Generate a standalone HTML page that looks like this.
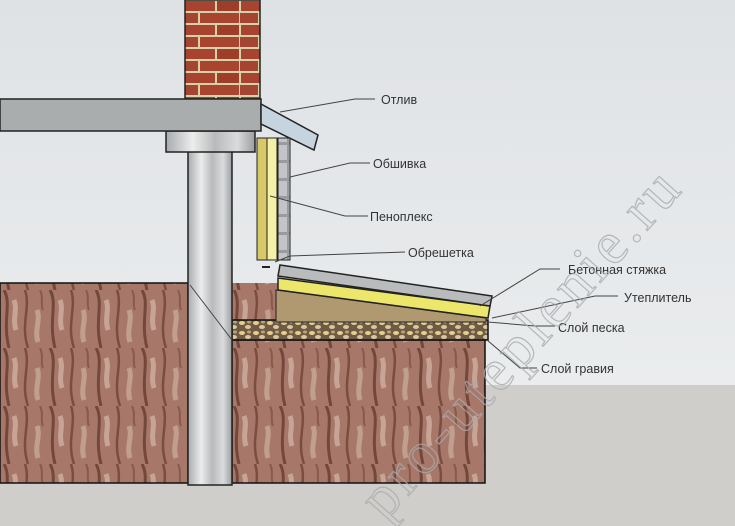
<!DOCTYPE html>
<html><head><meta charset="utf-8"><style>
html,body{margin:0;padding:0;background:#e6e8ea;}
svg{display:block;}
text{font-family:"Liberation Sans","DejaVu Sans",sans-serif;font-size:12.5px;fill:#333;}
</style></head><body>
<svg width="735" height="526" viewBox="0 0 735 526" xmlns="http://www.w3.org/2000/svg">
<defs>
<linearGradient id="bg" x1="0" y1="0" x2="0" y2="1"><stop offset="0" stop-color="#dfe2e5"/><stop offset="1" stop-color="#eef0f1"/></linearGradient>
<linearGradient id="pipe" x1="0" x2="1"><stop offset="0" stop-color="#a9aaad"/><stop offset=".3" stop-color="#eceded"/><stop offset=".55" stop-color="#b9babc"/><stop offset=".8" stop-color="#dadbdc"/><stop offset="1" stop-color="#9c9da0"/></linearGradient>
<pattern id="soil" width="46" height="58" patternUnits="userSpaceOnUse">
<rect width="46" height="58" fill="#a7786a"/>
<path d="M4 0 C12 14 2 30 9 58" stroke="#73473a" stroke-width="3" fill="none"/>
<path d="M25 0 C31 18 20 34 28 58" stroke="#7a4d3e" stroke-width="2.5" fill="none"/>
<path d="M14 10 C18 20 12 28 16 40" stroke="#c6a596" stroke-width="5" fill="none"/>
<path d="M37 20 C41 30 34 40 38 52" stroke="#c19f8f" stroke-width="5" fill="none"/>
<path d="M40 0 C44 8 40 14 43 20" stroke="#8a5a48" stroke-width="2" fill="none"/>
</pattern>
<pattern id="brick" width="60" height="24" patternUnits="userSpaceOnUse">
<rect width="60" height="24" fill="#d8d0a8"/>
<rect x="1" y="1" width="34" height="10" fill="#a8432f"/><rect x="37" y="1" width="22" height="10" fill="#9e3d2a"/>
<rect x="0" y="13" width="18" height="10" fill="#a34530"/><rect x="20" y="13" width="39" height="10" fill="#a9452f"/>
</pattern>
<pattern id="grav" width="14" height="10" patternUnits="userSpaceOnUse">
<rect width="14" height="10" fill="#6f5a44"/>
<ellipse cx="4" cy="3" rx="3" ry="2" fill="#e4cf8e"/><ellipse cx="10" cy="7" rx="3" ry="2" fill="#d9c7a0"/><ellipse cx="11" cy="2" rx="2" ry="1.5" fill="#b9a57a"/>
</pattern>
<pattern id="clad" width="12" height="18" patternUnits="userSpaceOnUse"><rect width="12" height="18" fill="#9a9ba0"/><rect x="1" y="1" width="10" height="15" fill="#c3c4c8"/></pattern>
</defs>
<rect width="735" height="526" fill="url(#bg)"/>
<rect x="0" y="385" width="735" height="141" fill="#cfcecb"/>
<rect x="0" y="483" width="735" height="43" fill="#cfcecb"/>
<!-- soil -->
<rect x="0" y="283" width="188" height="200" fill="url(#soil)" stroke="#111" stroke-width="1.5"/>
<rect x="232" y="283" width="46" height="40" fill="url(#soil)"/>
<rect x="232" y="340" width="253" height="143" fill="url(#soil)" stroke="#111" stroke-width="1.5"/>
<rect x="232" y="320" width="256" height="20" fill="url(#grav)" stroke="#111" stroke-width="1.5"/>
<polygon points="276,290 486,318 486,322 276,322" fill="#b09870" stroke="#222"/>
<!-- insulation & screed -->
<polygon points="278,278 490,306 488,318 278,290" fill="#ece66a" stroke="#222" stroke-width="1.5"/>
<polygon points="280,265 492,296 490,306 278,276" fill="#b9bbbd" stroke="#222" stroke-width="1.5"/>
<!-- pipe -->
<rect x="188" y="150" width="44" height="335" fill="url(#pipe)" stroke="#222" stroke-width="1.5"/>
<rect x="166" y="131" width="89" height="21" fill="url(#pipe)" stroke="#222" stroke-width="1.5"/>
<!-- brick -->
<rect x="185" y="0" width="75" height="99" fill="url(#brick)" stroke="#222" stroke-width="1.5"/>
<!-- slab -->
<rect x="0" y="99" width="261" height="32" fill="#aaadae" stroke="#222" stroke-width="1.5"/>
<!-- otliv -->
<polygon points="261,104 318,135 314,150 261,124" fill="#c5d4de" stroke="#222" stroke-width="1.5"/>
<!-- wall insulation and cladding -->
<rect x="257" y="138" width="10" height="122" fill="#d8c86a" stroke="#222"/>
<rect x="267" y="138" width="10" height="122" fill="#f4f0a8" stroke="#222"/>
<rect x="278" y="138" width="12" height="122" fill="url(#clad)" stroke="#222"/>
<rect x="262" y="266" width="8" height="2" fill="#222"/>
<!-- leaders -->
<g stroke="#444" stroke-width="1" fill="none">
<path d="M375 99 L355 99 L280 112"/>
<path d="M370 163 L350 163 L290 177"/>
<path d="M368 216 L345 216 L270 196"/>
<path d="M405 252 L290 256 L275 262"/>
<path d="M560 269 L540 269 L480 306"/>
<path d="M618 296 L595 296 L492 318"/>
<path d="M555 326 L535 326 L488 322"/>
<path d="M537 368 L520 368 L487 340"/>
<path d="M232 340 L190 285"/>
</g>
<text x="381" y="104">Отлив</text>
<text x="373" y="168">Обшивка</text>
<text x="370" y="221">Пеноплекс</text>
<text x="408" y="257">Обрешетка</text>
<text x="568" y="274">Бетонная стяжка</text>
<text x="624" y="302">Утеплитель</text>
<text x="558" y="332">Слой песка</text>
<text x="541" y="373">Слой гравия</text>
<text x="0" y="0" transform="translate(385,522) rotate(-48)" style="font-family:'Liberation Serif',serif;font-size:60px;fill:none;stroke:#a8abae;stroke-width:1.2;letter-spacing:4px;opacity:.8">pro-uteplenie.ru</text>
</svg>
</body></html>
